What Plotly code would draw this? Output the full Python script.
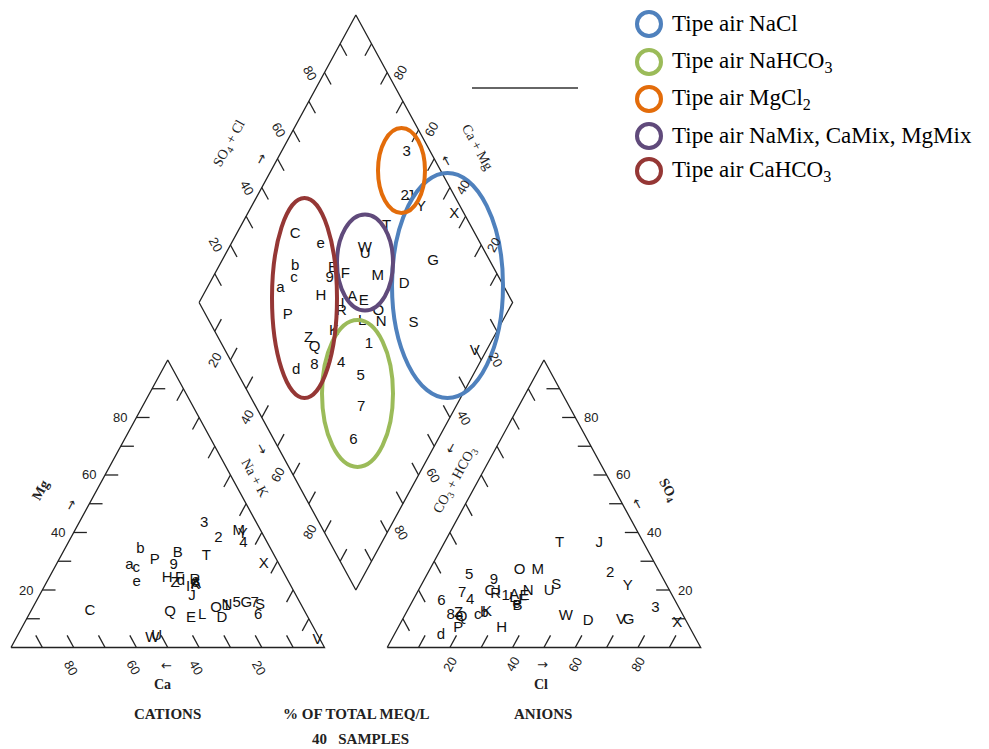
import numpy as np
import plotly.graph_objects as go

# ---------------- data (percent of total meq/L) ----------------
labels = ['1','2','3','4','5','6','7','8','9',
          'A','B','C','D','E','F','G','H','I','J','K','L','M',
          'N','O','P','Q','R','S','T','U','V','W','X','Y','Z',
          'a','b','c','d','e']
ca  = [24.0,14.8,16.7, 7.7,20.3,15.5,14.5,29.8,33.8,
       30.0,30.4,68.5,27.6,37.5,34.2,17.2,38.1,33.0,33.4,30.5,33.4, 7.2,
       23.7,27.7,38.9,43.1,29.6,13.2,21.9,51.5, 0.9,53.3, 4.9, 6.3,36.4,
       47.9,41.7,46.2,34.3,48.6]
mg  = [14.5,38.0,43.3,36.3,15.4,11.3,15.5,22.5,28.7,
       22.0,32.8,12.7,10.2,10.2,24.0,15.4,24.1,21.0,17.7,21.5,11.3,40.3,
       14.8,13.7,30.5,12.3,23.5,14.8,31.6, 4.0, 2.6, 3.2,29.0,39.5,22.5,
       28.7,34.0,27.7,23.0,22.7]
so4 = [18.0,25.8,13.7,16.5,25.3,16.0,18.9,11.3,23.5,
       18.3,14.2,19.4, 9.0,18.0,16.5, 9.6, 6.7,19.7,36.3,12.4,17.0,27.0,
       19.4,27.0, 6.7,10.5,18.6,21.8,36.3,19.4, 9.6,10.7, 8.4,21.2,12.0,
       11.0,12.0,11.3, 4.4,15.0]
cl  = [28.8,58.2,78.7,18.2,13.5, 9.3,14.5,14.6,22.3,
       31.4,34.5,23.1,59.6,34.8,35.0,72.2,33.2,25.8,49.5,25.6,31.8,34.5,
       35.3,28.7,19.3,18.5,25.3,43.0,36.8,42.0,69.8,51.6,88.3,66.1,16.8,
       17.5,25.0,23.2,14.9,33.8]

tick_vals = [10, 20, 30, 40, 50, 60, 70, 80, 90]
label_vals = [20, 40, 60, 80]

legend_names = ['Tipe air NaCl', 'Tipe air NaHCO<sub>3</sub>', 'Tipe air MgCl<sub>2</sub>',
                'Tipe air NaMix, CaMix, MgMix', 'Tipe air CaHCO<sub>3</sub>']
legend_colors = ['#4F81BD', '#9BBB59', '#E36C0A', '#604A7B', '#953735']

# ---------------- geometry ----------------
OFF = 8                        # page body margin
W, H = 989 - OFF, 749 - OFF
SX, SY = 313.5, 332.0          # pixels per unit
X0, Y0 = 11.0 - OFF, 647.5 - OFF
h = np.sqrt(3) / 2
g = 0.2

def px2d(px, py):              # screen pixel -> data
    return (px - OFF - X0) / SX, (Y0 - (py - OFF)) / SY

def dpx(dx, dy):               # pixel offset -> data offset (dy positive = down)
    return dx / SX, -dy / SY

def paper(px, py):
    return (px - OFF) / W, 1 - (py - OFF) / H

ca_a, mg_a = np.array(ca), np.array(mg)
na_a = 100 - ca_a - mg_a
so4_a, cl_a = np.array(so4), np.array(cl)

# cation triangle
cx = (na_a + 0.5 * mg_a) / 100
cy = h * mg_a / 100
# anion triangle
ax = 1 + g + (cl_a + 0.5 * so4_a) / 100
ay = h * so4_a / 100
# diamond
Lx, Ly = 0.5 + g / 2, h + g * h
Bx, By = 1 + g / 2, g * h
Tx, Ty = 1 + g / 2, 2 * h + g * h
Rx, Ry = 1.5 + g / 2, h + g * h
aa = (so4_a + cl_a) / 100
cc = na_a / 100
dx_ = Lx + 0.5 * (aa + cc)
dy_ = Ly + h * (aa - cc)

fig = go.Figure()

LINE = dict(color='#222', width=1.3)
outlines = [
    [(0, 0), (1, 0), (0.5, h), (0, 0)],
    [(1 + g, 0), (2 + g, 0), (1.5 + g, h), (1 + g, 0)],
    [(Lx, Ly), (Tx, Ty), (Rx, Ry), (Bx, By), (Lx, Ly)],
]
xs, ys = [], []
for poly in outlines:
    xs += [p[0] for p in poly] + [None]
    ys += [p[1] for p in poly] + [None]

TL = 0.042
tx, ty = [], []
def add_ticks(p0, p1, inward):
    for v in tick_vals:
        f = v / 100
        px_ = p0[0] + f * (p1[0] - p0[0])
        py_ = p0[1] + f * (p1[1] - p0[1])
        tx.extend([px_, px_ + TL * inward[0], None])
        ty.extend([py_, py_ + TL * inward[1], None])

add_ticks((0, 0), (0.5, h), (1, 0))
add_ticks((1, 0), (0, 0), (-0.5, h))
add_ticks((1, 0), (0.5, h), (-0.5, -h))
add_ticks((1 + g, 0), (1.5 + g, h), (0.5, -h))
add_ticks((1 + g, 0), (2 + g, 0), (0.5, h))
add_ticks((2 + g, 0), (1.5 + g, h), (-1, 0))
add_ticks((Lx, Ly), (Tx, Ty), (0.5, -h))
add_ticks((Tx, Ty), (Rx, Ry), (-0.5, -h))
add_ticks((Lx, Ly), (Bx, By), (0.5, h))
add_ticks((Rx, Ry), (Bx, By), (-0.5, h))

fig.add_trace(go.Scatter(x=xs, y=ys, mode='lines', line=LINE, hoverinfo='skip', showlegend=False))
fig.add_trace(go.Scatter(x=tx, y=ty, mode='lines', line=LINE, hoverinfo='skip', showlegend=False))

TF = dict(family='Liberation Sans, Arial, sans-serif', size=15, color='#111')
for X, Y in [(cx, cy), (ax, ay), (dx_, dy_)]:
    fig.add_trace(go.Scatter(x=X, y=Y, mode='text', text=labels, textfont=TF,
                             textposition='middle center', showlegend=False,
                             hoverinfo='text'))

ann = []
NF = dict(family='Liberation Sans, Arial, sans-serif', size=13, color='#222')
def A(x, y, text, angle=0, font=NF):
    ann.append(dict(x=x, y=y, text=text, textangle=angle, showarrow=False,
                    font=font, xref='x', yref='y', xanchor='center', yanchor='middle'))

ang = 61
for v in label_vals:
    f = v / 100
    ox, oy = dpx(-16, 0)
    A(0.5 * f + ox, h * f + oy, str(v))                       # Mg
    ox, oy = dpx(-3, 20)
    A(1 - f + ox, oy, str(v), ang)                             # Ca
    ox, oy = dpx(16, 0)
    A(2 + g - 0.5 * f + ox, h * f + oy, str(v))               # SO4
    ox, oy = dpx(0, 17)
    A(1 + g + f + ox, oy, str(v), -ang)                        # Cl
    ox, oy = dpx(-15, 0)
    A(Lx + 0.5 * f + ox, Ly + h * f + oy, str(v), ang)         # SO4+Cl
    ox, oy = dpx(13, 0)
    A(Tx + 0.5 * (1 - f) + ox, Ty - h * (1 - f) + oy, str(v), -ang)  # Ca+Mg
    ox, oy = dpx(-15, 0)
    A(Lx + 0.5 * f + ox, Ly - h * f + oy, str(v), -ang)        # Na+K
    ox, oy = dpx(14, 0)
    A(Rx - 0.5 * f + ox, Ry - h * f + oy, str(v), ang)         # CO3+HCO3

LF = dict(family='Liberation Serif, serif', size=14, color='#222')
AF = dict(family='DejaVu Sans, sans-serif', size=13, color='#222')
def AP(px, py, text, angle=0, font=LF):
    x, y = px2d(px, py)
    A(x, y, text, angle, font)

AP(40, 490, '<b>Mg</b>', -ang)
AP(70, 505, '→', -ang, AF)
AP(166, 665, '←', 0, AF)
AP(162, 684, '<b>Ca</b>', 0)
AP(542, 664, '→', 0, AF)
AP(541, 684, '<b>Cl</b>', 0)
AP(668, 490, '<b>SO<sub>4</sub></b>', ang)
AP(638, 503, '←', ang, AF)
AP(229, 144, 'SO<sub>4</sub> + Cl', -ang)
AP(260, 159, '→', -ang, AF)
AP(478, 147, 'Ca + Mg', ang)
AP(447, 160, '←', ang, AF)
AP(255, 477, 'Na + K', ang)
AP(262, 448, '→', ang, AF)
AP(455, 480, 'CO<sub>3</sub> + HCO<sub>3</sub>', -ang)
AP(450, 448, '←', -ang, AF)

BF = dict(family='Liberation Serif, serif', size=15, color='#222')
for px_, py_, t in [(167, 714, '<b>CATIONS</b>'), (356, 714, '<b>% OF TOTAL MEQ/L</b>'),
                    (543, 714, '<b>ANIONS</b>'), (360, 739, '<b>40   SAMPLES</b>')]:
    x, y = paper(px_, py_)
    ann.append(dict(x=x, y=y, xref='paper', yref='paper', text=t,
                    showarrow=False, font=BF, xanchor='center', yanchor='middle'))

shapes = []
leg_y = [24, 62, 99, 136, 171]
for yy, name, col in zip(leg_y, legend_names, legend_colors):
    r = 12
    xa, ya = paper(649 - r, yy + r)
    xb, yb = paper(649 + r, yy - r)
    shapes.append(dict(type='circle', xref='paper', yref='paper',
                       x0=xa, x1=xb, y0=ya, y1=yb, line=dict(color=col, width=4)))
    xt, yt = paper(670, yy)
    ann.append(dict(x=xt, y=yt, xref='paper', yref='paper', text=name,
                    showarrow=False, xanchor='left', yanchor='middle',
                    font=dict(family='Liberation Serif, Times New Roman, serif', size=23, color='#000')))

ellipses = [((447.5, 285.5), 55.5, 112.5, legend_colors[0]),
            ((357.5, 393.5), 35.5, 73.5, legend_colors[1]),
            ((401.5, 170.5), 23.5, 42.5, legend_colors[2]),
            ((365.0, 262.5), 28.0, 48.0, legend_colors[3]),
            ((304.5, 298.0), 32.5, 100.0, legend_colors[4])]
for (ecx, ecy), rx, ry, col in ellipses:
    x0, y0 = px2d(ecx - rx, ecy + ry)
    x1, y1 = px2d(ecx + rx, ecy - ry)
    shapes.append(dict(type='circle', xref='x', yref='y', x0=x0, x1=x1, y0=y0, y1=y1,
                       line=dict(color=col, width=4)))

lx0, ly0 = px2d(472, 88)
lx1, _ = px2d(578, 88)
shapes.append(dict(type='line', xref='x', yref='y', x0=lx0, x1=lx1, y0=ly0, y1=ly0,
                   line=dict(color='#333', width=1.5)))

fig.update_layout(
    width=W, height=H, autosize=False,
    margin=dict(l=0, r=0, t=0, b=0),
    paper_bgcolor='white', plot_bgcolor='white',
    xaxis=dict(range=[-X0 / SX, (W - X0) / SX], visible=False, fixedrange=True),
    yaxis=dict(range=[(Y0 - H) / SY, Y0 / SY], visible=False, fixedrange=True),
    annotations=ann, shapes=shapes, showlegend=False,
)
fig.write_html('out.html')
